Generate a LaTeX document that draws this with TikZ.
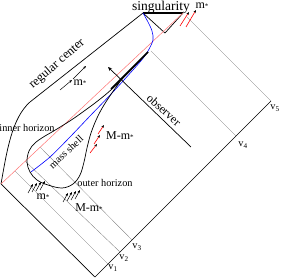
\documentclass[tikz,border=0pt]{standalone}
\usepackage{fontspec}
\setmainfont{Liberation Serif}
\usetikzlibrary{arrows.meta}
\newcommand{\mstar}{m\raisebox{0.05ex}{\scriptsize *}}
\begin{document}
\begin{tikzpicture}[x=1pt,y=-1pt,
  frame/.style={line width=0.7pt},
  vline/.style={line width=0.3pt, black!55},
  redl/.style={line width=0.5pt, red!55},
  bluel/.style={line width=0.6pt, blue},
  barline/.style={line width=1.6pt},
  blk/.style={line width=0.5pt, -{Stealth[length=3pt,width=2.4pt]}},
  rda/.style={line width=0.6pt, red, -{Stealth[length=3pt,width=2.4pt,black]}},
  lbl/.style={inner sep=0pt},
  big/.style={font=\fontsize{13.5}{15}\selectfont},
  mid/.style={font=\fontsize{12}{14}\selectfont},
  sml/.style={font=\fontsize{10.3}{12}\selectfont},
]
\useasboundingbox (0,0) rectangle (282,278);
% frame corners
\coordinate (B) at (95,277);
\coordinate (L) at (1,184);
\coordinate (R) at (271,101);
\coordinate (S1) at (143,13);
\coordinate (S2) at (183,13);
\coordinate (Sv) at (165,33);
\coordinate (C1) at (30,102);
% v-line ends
\coordinate (e1) at (108,264);
\coordinate (e2) at (120,252);
\coordinate (e3) at (132,240);
\coordinate (e4) at (236,136);
\coordinate (r1) at (15,171);
\coordinate (r2) at (25,161);
\coordinate (r3) at (40,147);
\coordinate (r4) at (151,51);
\coordinate (r5) at (187,17);
% thin null lines
\draw[vline] (e1) -- (r1);
\draw[vline] (e2) -- (r2);
\draw[vline] (e3) -- (r3);
\draw[vline] (e4) -- (r4);
\draw[vline] (R) -- (r5);
% frame
\draw[frame] (L) -- (B) -- (R);
\draw[frame] (L) .. controls (7,150) and (12,118) .. (C1) -- (S1);
\draw[barline] (S1) -- (S2);
\draw[frame] (S1) -- (Sv) -- (S2);
% red line
\draw[redl] (L) -- (S2);
% blue mass shell
\draw[bluel] plot[smooth] coordinates {(31,172) (50,157) (70,137) (90,116) (113,92) (140,62) (148,51) (153,40) (152,31) (148,22) (143,13)};
% horizons
\draw[frame] plot[smooth, tension=0.6] coordinates {(125,75) (114,90) (104,105) (97,118) (91,133) (87,148) (84,162) (80,175) (73,184) (62,188) (48,185) (37,180) (30,172) (27,162) (29,151) (35,143) (45,136) (57,129) (80,114) (112,89) (148,52)};
\draw[barline] (111,89) -- (148,52);
% observer
\coordinate (oT) at (191,147);
\coordinate (oH) at (108,67);
\draw[line width=0.7pt, -{Stealth[length=4pt,width=3.5pt]}] (oT) -- (oH);
% arrows m* near regular center
\coordinate (a1) at (60,90); \coordinate (a2) at (72,80);
\coordinate (a3) at (73,79); \coordinate (a4) at (86,66);
\draw[blk] (a1) -- (a2);
\draw[blk] (a3) -- (a4);
% top red arrows
\coordinate (t1) at (180,26); \coordinate (t2) at (189,12);
\coordinate (t3) at (186,27); \coordinate (t4) at (196,10);
\draw[rda] (t1) -- (t2);
\draw[rda] (t3) -- (t4);
% middle red arrows
\coordinate (m1) at (90,153); \coordinate (m2) at (97,144);
\coordinate (m3) at (94,144); \coordinate (m4) at (100,135);
\coordinate (m5) at (98,134); \coordinate (m6) at (104,125);
\draw[rda] (m1) -- (m2);
\draw[rda] (m3) -- (m4);
\draw[rda] (m5) -- (m6);
% bottom black arrows (m*)
\foreach \i in {0,1,2,3} {
  \coordinate (p\i) at ({28+4*\i},{193-\i});
  \coordinate (q\i) at ({33+4*\i},{184-\i});
  \draw[blk] (p\i) -- (q\i);
}
% bottom black arrows (M-m*)
\foreach \i in {0,1,2,3} {
  \coordinate (u\i) at ({63+4*\i},{202-\i});
  \coordinate (w\i) at ({68+4*\i},{193-\i});
  \draw[blk] (u\i) -- (w\i);
}
% labels
\node[lbl,big] (sing) at (161,7) {singularity};
\node[lbl,font=\fontsize{12.5}{14}\selectfont,rotate=41] (regc) at (57,64) {regular center};
\node[lbl,mid] (ms1) at (80,83) {\mstar};
\node[lbl,mid] (ms2) at (202,6) {\mstar};
\node[lbl,sml] (inh) at (27,128) {inner horizon};
\node[lbl,sml,rotate=43] (msh) at (66,152) {mass shell};
\node[lbl,sml] (outh) at (105,183) {outer horizon};
\node[lbl,mid] (Mm1) at (120,136) {M-\mstar};
\node[lbl,mid,rotate=-42] (obs) at (164,110) {observer};
\node[lbl,mid] (ms3) at (43,197) {\mstar};
\node[lbl,mid] (Mm2) at (89,208) {M-\mstar};
\node[lbl,sml] (v1) at (113,268) {v\textsubscript{1}};
\node[lbl,sml] (v2) at (124,258) {v\textsubscript{2}};
\node[lbl,sml] (v3) at (137,247) {v\textsubscript{3}};
\node[lbl,sml] (v4) at (243,145) {v\textsubscript{4}};
\node[lbl,sml] (v5) at (275,108) {v\textsubscript{5}};
\end{tikzpicture}
\end{document}
